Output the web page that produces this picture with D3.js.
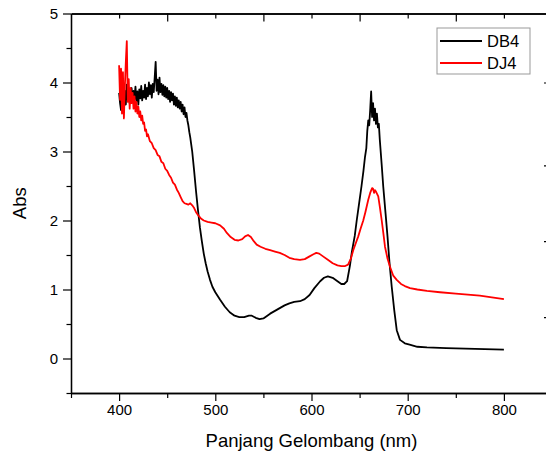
<!DOCTYPE html>
<html>
<head>
<meta charset="utf-8">
<script src="https://cdn.jsdelivr.net/npm/d3@7"></script>
<style>
  html, body { margin: 0; padding: 0; background: #fff; }
  svg { display: block; font-family: "Liberation Sans", Arial, sans-serif; }
</style>
</head>
<body>
<div id="chart"></div>
<script>
// ---- data ----
const seriesNames = ["DB4", "DJ4"];
const seriesColors = ["#000000", "#ff0000"];

const db4Wavelength = [400,401,402,403,404,405,406,407,408,409,410,411,412,413,414,415,416,417,418,419,420,421,422,423,424,425,426,427,428,429,430,431,432,433,434,435,436,437,438,439,440,441,442,443,444,445,446,447,448,449,450,451,452,453,454,455,456,457,458,459,460,461,462,463,464,465,466,467,468,469,470,471,472,473,474,475,476,478,480,482,484,486,488,490,492,494.5,497,500,505,510,515,520,525,530,535,538,542,546,550,557,562,567,572,577,582,588,593,598,603,609,613,617,622,627,631,634,637,640,642,645,647,650,652,654,655.6,657,658,659,660,661,662,663,664,665,666,667,668,669,670,671,673,674.6,677,679,681,683.4,686,688.6,692,697,702,710,720,740,770,800];
const db4Abs = [3.85,3.70,3.60,3.82,3.94,3.72,3.88,3.68,3.97,3.76,3.90,3.70,3.85,3.92,3.72,3.88,3.76,3.94,3.73,3.87,3.68,3.90,3.77,3.95,3.74,3.88,3.78,3.97,3.76,3.92,3.80,4.00,3.83,3.96,3.78,3.98,3.86,4.07,4.30,3.88,4.04,3.83,4.07,3.86,3.98,3.82,3.96,3.80,3.94,3.78,3.92,3.76,3.88,3.72,3.86,3.74,3.84,3.68,3.80,3.66,3.78,3.64,3.74,3.62,3.72,3.58,3.68,3.54,3.64,3.50,3.56,3.45,3.38,3.28,3.20,3.10,3.00,2.72,2.42,2.15,1.90,1.70,1.52,1.38,1.26,1.14,1.04,0.96,0.85,0.75,0.67,0.62,0.60,0.60,0.62,0.62,0.59,0.57,0.58,0.65,0.69,0.73,0.77,0.80,0.82,0.83,0.86,0.92,1.02,1.12,1.17,1.19,1.17,1.12,1.08,1.08,1.12,1.35,1.55,1.78,2.00,2.30,2.50,2.72,2.92,3.05,3.30,3.45,3.38,3.60,3.87,3.50,3.70,3.45,3.62,3.40,3.55,3.35,3.40,3.17,2.80,2.49,2.10,1.77,1.40,1.04,0.70,0.41,0.27,0.22,0.20,0.17,0.16,0.15,0.14,0.13];

const dj4Wavelength = [400,401,402,403,404,405,406,407,408,409,410,411,412,413,414,415,416,417,418,419,420,421,422,423,424,425,426,427,428,429,430,432,434,436,438,440,442,444,446,448,450,452,454,456,458,460,462,464,466,468,470,472,474,476,478,480,482,485,488,492,496,500,505,509,512,516,520,524,528,531,534,537,540,543,547,552,557,562,567,572,577,582,588,593,598,602,605,608,612,617,622,627,631,635,638,641,643.4,646,648.6,651,653.8,656,659,661,663,664,665,666,667,669.4,671,673,675,676.4,679,681.6,685,688.6,693,697,702.4,710,720,733.6,750,775,800];
const dj4Abs = [4.25,3.75,4.20,3.55,4.15,3.48,3.95,4.30,4.60,3.72,4.05,3.62,3.92,3.70,3.85,3.62,3.80,3.58,3.72,3.55,3.65,3.50,3.58,3.45,3.52,3.40,3.42,3.30,3.32,3.22,3.25,3.15,3.12,3.05,3.02,2.95,2.93,2.85,2.83,2.75,2.72,2.66,2.62,2.55,2.52,2.45,2.40,2.34,2.28,2.25,2.24,2.23,2.25,2.22,2.18,2.12,2.08,2.03,2.00,1.98,1.97,1.96,1.93,1.88,1.82,1.76,1.72,1.71,1.73,1.77,1.79,1.76,1.70,1.65,1.62,1.59,1.57,1.55,1.53,1.50,1.46,1.44,1.43,1.44,1.48,1.51,1.53,1.52,1.48,1.43,1.38,1.35,1.34,1.34,1.36,1.45,1.57,1.67,1.77,1.88,2.00,2.12,2.30,2.40,2.47,2.46,2.40,2.44,2.42,2.35,2.20,2.00,1.78,1.62,1.45,1.33,1.20,1.14,1.08,1.05,1.02,1.00,0.98,0.96,0.94,0.91,0.86];

const xMajorTicks = [400, 500, 600, 700, 800];
const xMinorTicks = [350, 450, 550, 650, 750, 850];
const yMajorTicks = [0, 1, 2, 3, 4, 5];
const yMinorTicks = [-0.5, 0.5, 1.5, 2.5, 3.5, 4.5];
const rightTicks = [4.0, 2.8, 1.7, 0.6];
const xTitle = "Panjang Gelombang (nm)";
const yTitle = "Abs";

// ---- layout ----
const W = 546, H = 453;
const svg = d3.select("#chart").append("svg").attr("width", W).attr("height", H);

const x = d3.scaleLinear().domain([350, 850]).range([71, 552]);
const y = d3.scaleLinear().domain([-0.5, 5]).range([393, 13.5]);

const fontTick = "15px";
const fontTitle = "18.5px";

// series
const series = [
  { name: seriesNames[0], color: seriesColors[0], xs: db4Wavelength, ys: db4Abs },
  { name: seriesNames[1], color: seriesColors[1], xs: dj4Wavelength, ys: dj4Abs }
];
const line = d3.line().x(d => x(d[0])).y(d => y(d[1]));
series.forEach(s => {
  svg.append("path")
    .datum(s.xs.map((v, i) => [v, s.ys[i]]))
    .attr("fill", "none")
    .attr("stroke", s.color)
    .attr("stroke-width", 1.8)
    .attr("stroke-linejoin", "round")
    .attr("d", line);
});

function styleAxis(g) {
  g.selectAll("path.domain").attr("stroke", "#000").attr("stroke-width", 1.3);
  g.selectAll(".tick line").attr("stroke", "#000").attr("stroke-width", 1.2);
  g.selectAll(".tick text").attr("font-size", fontTick).attr("fill", "#000")
    .attr("font-family", "'Liberation Sans', Arial, sans-serif");
}

// bottom axis
const gB = svg.append("g").attr("transform", `translate(0,${y(-0.5)})`)
  .call(d3.axisBottom(x).tickValues(xMajorTicks).tickSize(8).tickPadding(3).tickFormat(d3.format("d")).tickSizeOuter(0));
styleAxis(gB);
const gBm = svg.append("g").attr("transform", `translate(0,${y(-0.5)})`)
  .call(d3.axisBottom(x).tickValues(xMinorTicks).tickSize(5).tickFormat("").tickSizeOuter(0));
styleAxis(gBm);

// top axis (inward ticks)
const gT = svg.append("g").attr("transform", `translate(0,${y(5)})`)
  .call(d3.axisTop(x).tickValues(xMajorTicks).tickSize(-5).tickFormat("").tickSizeOuter(0));
styleAxis(gT);
const gTm = svg.append("g").attr("transform", `translate(0,${y(5)})`)
  .call(d3.axisTop(x).tickValues(xMinorTicks.slice(1, 5)).tickSize(-8).tickFormat("").tickSizeOuter(0));
styleAxis(gTm);

// left axis
const gL = svg.append("g").attr("transform", `translate(${x(350)},0)`)
  .call(d3.axisLeft(y).tickValues(yMajorTicks).tickSize(8).tickPadding(5).tickFormat(d3.format("d")).tickSizeOuter(0));
styleAxis(gL);
const gLm = svg.append("g").attr("transform", `translate(${x(350)},0)`)
  .call(d3.axisLeft(y).tickValues(yMinorTicks).tickSize(4.5).tickFormat("").tickSizeOuter(0));
styleAxis(gLm);

// right axis (mostly off-canvas, inward ticks)
const gR = svg.append("g").attr("transform", `translate(${x(850)},0)`)
  .call(d3.axisRight(y).tickValues(rightTicks).tickSize(-8).tickFormat("").tickSizeOuter(0));
styleAxis(gR);

// titles
svg.append("text")
  .attr("x", x(600)).attr("y", 447)
  .attr("text-anchor", "middle")
  .attr("font-size", fontTitle).attr("fill", "#000")
  .text(xTitle);
svg.append("text")
  .attr("transform", `translate(26,${(y(5) + y(-0.5)) / 2}) rotate(-90)`)
  .attr("text-anchor", "middle")
  .attr("font-size", fontTitle).attr("fill", "#000")
  .text(yTitle);

// legend
const lg = svg.append("g").attr("transform", "translate(437,28)");
lg.append("rect").attr("width", 93).attr("height", 46)
  .attr("fill", "#fff").attr("stroke", "#999").attr("stroke-width", 1);
series.forEach((s, i) => {
  const ly = 13 + i * 22;
  lg.append("line").attr("x1", 3).attr("x2", 45).attr("y1", ly).attr("y2", ly)
    .attr("stroke", s.color).attr("stroke-width", 1.8);
  lg.append("text").attr("x", 50).attr("y", ly + 6)
    .attr("font-size", "16.5px").attr("fill", "#000").text(s.name);
});
</script>
</body>
</html>
